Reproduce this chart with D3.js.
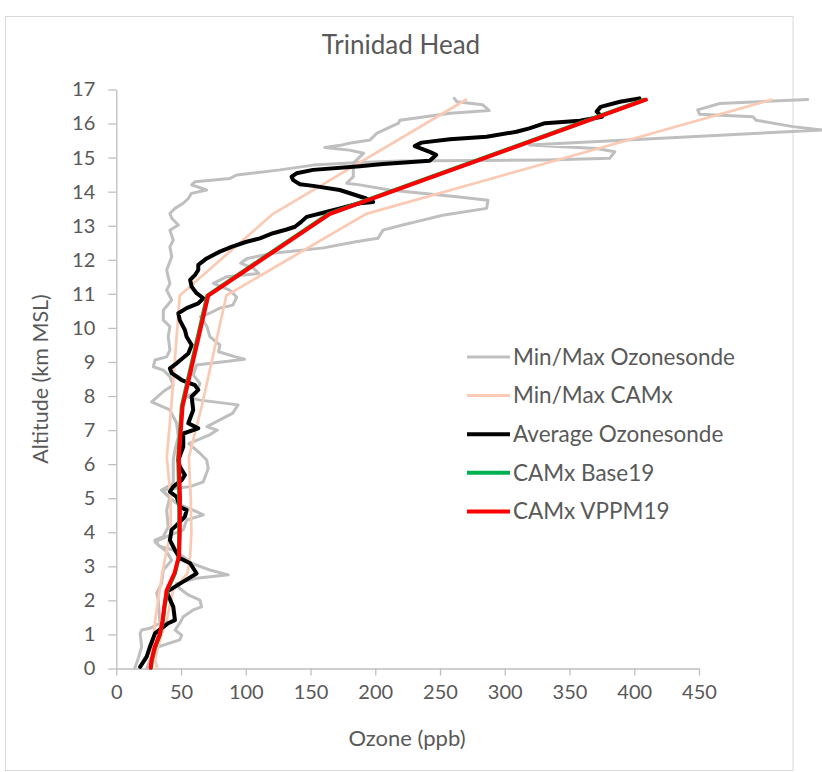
<!DOCTYPE html>
<html>
<head>
<meta charset="utf-8">
<script src="https://cdn.jsdelivr.net/npm/d3@7"></script>
<style>
body{margin:0;background:#fff;}
text{font-family:Lato,"Liberation Sans",sans-serif;fill:#595959;}
</style>
</head>
<body>
<div id="chart"></div>
<script>
var w=822;
var h=772;

// average ozonesonde profile
var avgAlt=[0.05,0.35,0.64,1.03,1.33,1.42,1.81,2.25,2.55,2.79,3.09,3.24,3.48,3.77,4.07,4.16,4.46,4.65,4.75,5.04,5.19,5.34,5.53,5.68,5.93,6.12,6.51,6.9,7.05,7.2,7.59,7.98,8.18,8.32,8.47,8.67,8.81,8.96,9.25,9.5,9.74,9.94,10.23,10.43,10.58,10.72,10.87,11.02,11.21,11.41,11.55,11.7,11.85,12.04,12.24,12.38,12.53,12.63,12.78,12.89,12.97,13.12,13.26,13.38,13.51,13.66,13.7,13.8,14.05,14.17,14.22,14.34,14.44,14.54,14.64,14.75,14.81,14.91,15.08,15.17,15.34,15.44,15.54,15.61,15.76,15.86,16.01,16.08,16.2,16.35,16.49,16.64,16.74];
var avgO3=[18.4,23.5,26,29.9,40.1,45.3,44,38.9,51.7,62,57,49,45.3,41.4,42.7,45.3,53,54.3,49,46.6,41.4,44,50.5,53,49,47.9,51.7,51.7,63.3,55.6,59.4,58.2,63.3,60.7,50.5,42.8,41.4,46.6,55.6,58.2,54.3,53,49,47.9,54.3,63.3,67.2,62,58.2,57,60.7,63.3,63.3,69.8,80,89,100.6,110.9,121,131.5,138,143,147,159.8,172.7,188,198.4,193,172.6,152,141.8,136.6,135.4,139.2,152,188,206,242,247,242,230.5,235.7,257.6,286,309,319,331,358,375,371,374,389,404];

// min / max ozonesonde profiles
var minSondeAlt=[0.02,0.3,0.64,1.03,1.13,1.18,1.33,2.01,2.21,2.5,2.89,3.18,3.43,3.63,3.77,3.87,4.16,4.65,5.04,5.24,5.44,5.92,6.12,6.42,6.81,7.2,7.59,7.83,8.13,8.32,8.57,8.76,8.86,9.06,9.15,9.35,9.74,10.04,10.23,10.52,10.82,11.11,11.3,11.5,11.7,12.09,12.38,12.58,12.87,13.02,13.22,13.36,13.51,13.66,13.8,13.95,14.05,14.2,14.29,14.39,14.49,14.64,14.78,14.86,14.9,14.93,14.98,15.17,15.27,15.37,15.81,15.91,16.1,16.2,16.27,16.4,16.59,16.71];
var minSondeO3=[14.4,17,19.6,18.4,19.6,26,33.7,32.4,31.2,35,36.3,42.8,38.9,32.4,29.9,36.3,40.1,38.9,41.4,35,44,44,44,45.3,47.9,46.6,41.4,27.3,36.3,44,41.4,36.3,28.6,29.9,38.9,41.4,40.1,41.4,36.3,36.3,42.8,38.9,41.4,40.1,38.9,42.8,41.4,44,41.4,47.9,42.8,41.4,45.3,51.7,55.6,58,69.8,58.2,60.7,87.8,92.9,126.4,152,188,219,332,381,385,371,319,545,522.6,494,491.7,450.5,449,466,534];
var maxSondeAlt=[0,0.25,0.64,0.84,0.98,1.13,1.33,1.52,1.72,1.81,2.01,2.16,2.35,2.5,2.65,2.75,2.89,3.09,3.28,3.48,3.58,3.72,3.87,4.07,4.36,4.51,4.65,4.85,5.09,5.24,5.34,5.48,5.88,6.12,6.32,6.6,6.86,7,7.1,7.3,7.5,7.74,7.88,7.98,8.13,8.37,8.62,8.91,9.08,9.15,9.3,9.5,9.74,10.04,10.33,10.43,10.58,10.67,10.9,11.1,11.31,11.5,11.6,11.75,11.9,12.04,12.19,12.35,12.53,12.63,12.87,13.02,13.12,13.31,13.51,13.75,13.85,14.05,14.2,14.25,14.44,14.83,15.13,15.22,15.3,15.36,15.42,15.52,15.71,16.01,16.1,16.3,16.38,16.55,16.64,16.74];
var maxSondeO3=[23.5,26,32.4,49,50.5,45.3,49,51.7,59.4,65.9,64.6,55.6,49,46.6,62,86.4,72.3,58.2,51.7,44,33.7,29.9,38.9,51.7,54.3,67.2,59.4,46.6,38.9,35,57,67.2,71,69.8,64.6,56,72,78,70,80,90,94,64.6,54.3,62,64.6,59.4,62,99,92,79,80,72.3,70,65,72,80,90,93,88,75,85,110,106,96,101,121,160,185,202,206,221,232,252,286,287,263,211,188,178,183,183,191,180,161,173,180,196,201,218,219,258,288,283,263,261];

// CAMx model levels and profiles
var camxAlt=[0.02,0.25,0.6,1.0,1.4,1.8,2.3,2.8,3.3,4.0,5.0,6.2,7.7,10.95,13.35,16.7];
var camxMin=[27.5,27.3,28,29,30,31.5,33.5,35.5,38,42,42,39,42.5,49,121,270];
var camxMax=[31.5,30,32,35,38.9,41,44,55,57,58,57.5,56,66,85,193,506];
var base19=[26.8,27.5,29.8,33.7,35.9,37.2,39.5,45.3,48.3,48.6,48.6,47.8,50.6,70.3,164,408];
var vppm19=[26.5,27.3,29.5,33.5,35.8,37,39,45,48.5,49,49.2,48.3,51.2,71,165,409];

var xTicks=[0,50,100,150,200,250,300,350,400,450];
var yTicks=[0,1,2,3,4,5,6,7,8,9,10,11,12,13,14,15,16,17];

var legendNames=["Min/Max Ozonesonde","Min/Max CAMx","Average Ozonesonde","CAMx Base19","CAMx VPPM19"];
var legendColors=["#BFBFBF","#FBCAB4","#000000","#00B050","#FF0000"];

var svg=d3.select("#chart").append("svg")
          .attr("width",w)
          .attr("height",h);

svg.append("rect")
   .attr("width",w).attr("height",h)
   .attr("fill","#fff");

// chart border
svg.append("rect")
   .attr("x",5.5).attr("y",16.5)
   .attr("width",787.5).attr("height",754)
   .attr("fill","none")
   .attr("stroke","#D9D9D9");

var x=d3.scaleLinear().domain([0,450]).range([116.3,699]);
var y=d3.scaleLinear().domain([0,17]).range([668.5,89.5]);

// axes
var xAxis=svg.append("g")
   .attr("transform","translate(0,"+y(0)+")")
   .call(d3.axisBottom(x).tickValues(xTicks).tickSize(7).tickPadding(9).tickSizeOuter(0));
var yAxis=svg.append("g")
   .attr("transform","translate("+x(0)+",0)")
   .call(d3.axisLeft(y).tickValues(yTicks).tickSize(8).tickPadding(13).tickSizeOuter(0));

[xAxis,yAxis].forEach(function(a){
  a.select(".domain").attr("stroke","#BFBFBF").attr("stroke-width",1.3);
  a.selectAll(".tick line").attr("stroke","#BFBFBF").attr("stroke-width",1.3);
  a.selectAll(".tick text").attr("fill","#595959").style("font-size","20px")
   .style("font-family","Lato,'Liberation Sans',sans-serif");
});

function series(alts,vals){
  return alts.map(function(a,i){return [vals[i],a];});
}

var line=d3.line()
   .x(function(d){return x(d[0]);})
   .y(function(d){return y(d[1]);});

var lines=[
  {data:series(minSondeAlt,minSondeO3),color:"#BFBFBF",width:3},
  {data:series(maxSondeAlt,maxSondeO3),color:"#BFBFBF",width:3},
  {data:series(camxAlt,camxMin),color:"#FBCAB4",width:2.75},
  {data:series(camxAlt,camxMax),color:"#FBCAB4",width:2.75},
  {data:series(avgAlt,avgO3),color:"#000000",width:4},
  {data:series(camxAlt,base19),color:"#00B050",width:4},
  {data:series(camxAlt,vppm19),color:"#FF0000",width:4}
];

svg.append("g")
   .selectAll("path")
   .data(lines)
   .enter().append("path")
     .attr("d",function(d){return line(d.data);})
     .attr("fill","none")
     .attr("stroke",function(d){return d.color;})
     .attr("stroke-width",function(d){return d.width;})
     .attr("stroke-linejoin","round")
     .attr("stroke-linecap","round");

// titles
svg.append("text")
   .attr("x",401).attr("y",54)
   .attr("text-anchor","middle")
   .style("font-size","26px")
   .text("Trinidad Head");

svg.append("text")
   .attr("x",407).attr("y",746)
   .attr("text-anchor","middle")
   .style("font-size","22px")
   .text("Ozone (ppb)");

svg.append("text")
   .attr("transform","translate(48,379) rotate(-90)")
   .attr("text-anchor","middle")
   .style("font-size","21.5px")
   .text("Altitude (km MSL)");

// legend
var legend=svg.append("g")
   .selectAll("g")
   .data(legendNames)
   .enter().append("g")
     .attr("transform",function(d,i){return "translate(467,"+(357+i*38.6)+")";});

legend.append("line")
   .attr("x1",0).attr("x2",43)
   .attr("stroke",function(d,i){return legendColors[i];})
   .attr("stroke-width",function(d,i){return i<2?3:4;});

legend.append("text")
   .attr("x",46).attr("dy","0.35em")
   .style("font-size","22.5px")
   .text(function(d){return d;});
</script>
</body>
</html>
